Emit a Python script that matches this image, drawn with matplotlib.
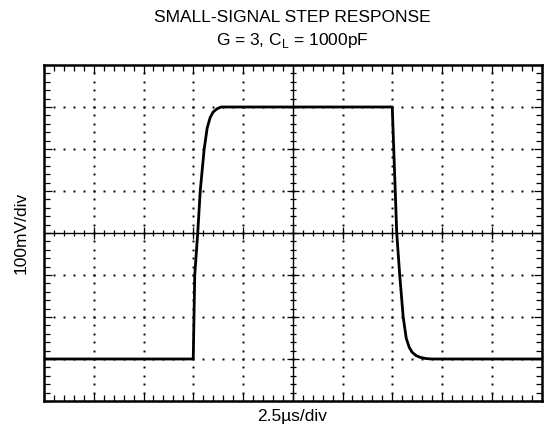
import numpy as np
import matplotlib
matplotlib.use("Agg")
import matplotlib.pyplot as plt

plt.rcParams['font.family'] = ['Liberation Sans', 'DejaVu Sans']

# Data (time in microseconds, output in mV)
time_us = [0.0, 7.5, 7.575, 7.725, 7.85, 8.05, 8.2, 8.35, 8.5, 8.7, 8.9,
           17.5, 17.575, 17.65, 17.725, 17.875, 18.05, 18.2, 18.35, 18.5,
           18.7, 18.9, 19.2, 19.5, 25.0]
vout_mv = [-300, -300, -100, 0, 100, 200, 250, 275, 288, 296, 300,
           300, 200, 100, 0, -100, -200, -250, -272, -284,
           -292, -296, -299, -300, -300]

title_lines = ["SMALL-SIGNAL STEP RESPONSE", r"G = 3, C$_\mathregular{L}$ = 1000pF"]
x_label = "2.5\u00b5s/div"
y_label = "100mV/div"

x_div, y_div = 2.5, 100
nx, ny = 10, 8
xmin, xmax = 0, x_div * nx
ymin, ymax = -y_div * ny / 2, y_div * ny / 2

fig = plt.figure(figsize=(5.45, 4.37), dpi=100)
ax = fig.add_axes([44 / 545, 36 / 437, (541.5 - 44) / 545, (401 - 65) / 437])
ax.set_xlim(xmin, xmax)
ax.set_ylim(ymin, ymax)

# dotted graticule
xminor = np.arange(xmin, xmax + 1e-9, x_div / 5)[1:-1]
yminor = np.arange(ymin, ymax + 1e-9, y_div / 5)[1:-1]
xc = (xmin + xmax) / 2
for gy in np.arange(ymin + y_div, ymax, y_div):
    if abs(gy) < 1e-9:
        continue
    ax.plot(xminor, np.full_like(xminor, gy), ls='none', marker='s',
            ms=1.4, mec='none', mfc='black', zorder=1)
for gx in np.arange(xmin + x_div, xmax - 1e-9, x_div):
    if abs(gx - xc) < 1e-9:
        continue
    ax.plot(np.full_like(yminor, gx), yminor, ls='none', marker='s',
            ms=1.4, mec='none', mfc='black', zorder=1)

# center axes with cross ticks
ax.axhline(0, color='black', lw=1.0, zorder=2)
ax.axvline(xc, color='black', lw=1.0, zorder=2)
xmaj = np.arange(xmin + x_div, xmax, x_div)
ymaj = np.arange(ymin + y_div, ymax, y_div)
ax.plot(xminor, np.zeros_like(xminor), ls='none', marker='|', ms=5, mew=0.9, color='black', zorder=2)
ax.plot(xmaj, np.zeros_like(xmaj), ls='none', marker='|', ms=8, mew=0.9, color='black', zorder=2)
ax.plot(np.full_like(yminor, xc), yminor, ls='none', marker='_', ms=5, mew=0.9, color='black', zorder=2)
ax.plot(np.full_like(ymaj, xc), ymaj, ls='none', marker='_', ms=8, mew=0.9, color='black', zorder=2)

# trace
ax.plot(time_us, vout_mv, color='black', lw=2.0, solid_joinstyle='round', zorder=3)

# frame and border ticks
for s in ax.spines.values():
    s.set_linewidth(1.8)
ax.set_xticks(np.arange(xmin, xmax + 1e-9, x_div))
ax.set_yticks(np.arange(ymin, ymax + 1e-9, y_div))
ax.set_xticks(np.arange(xmin, xmax + 1e-9, x_div / 5), minor=True)
ax.set_yticks(np.arange(ymin, ymax + 1e-9, y_div / 5), minor=True)
ax.tick_params(which='both', direction='in', top=True, right=True,
               labelbottom=False, labelleft=False, color='black')
ax.tick_params(which='major', length=6, width=0.9)
ax.tick_params(which='minor', length=4, width=0.9)

fs = 12.5
fig.text(292.5 / 545, 1 - 18 / 437, title_lines[0], ha='center', va='center', fontsize=fs)
fig.text(292.5 / 545, 1 - 41 / 437, title_lines[1], ha='center', va='center', fontsize=fs)
fig.text(292.5 / 545, 1 - 417 / 437, x_label, ha='center', va='center', fontsize=fs)
fig.text(21 / 545, 1 - 233 / 437, y_label, ha='center', va='center', rotation=90, fontsize=fs)

fig.savefig("out.png", dpi=100)
